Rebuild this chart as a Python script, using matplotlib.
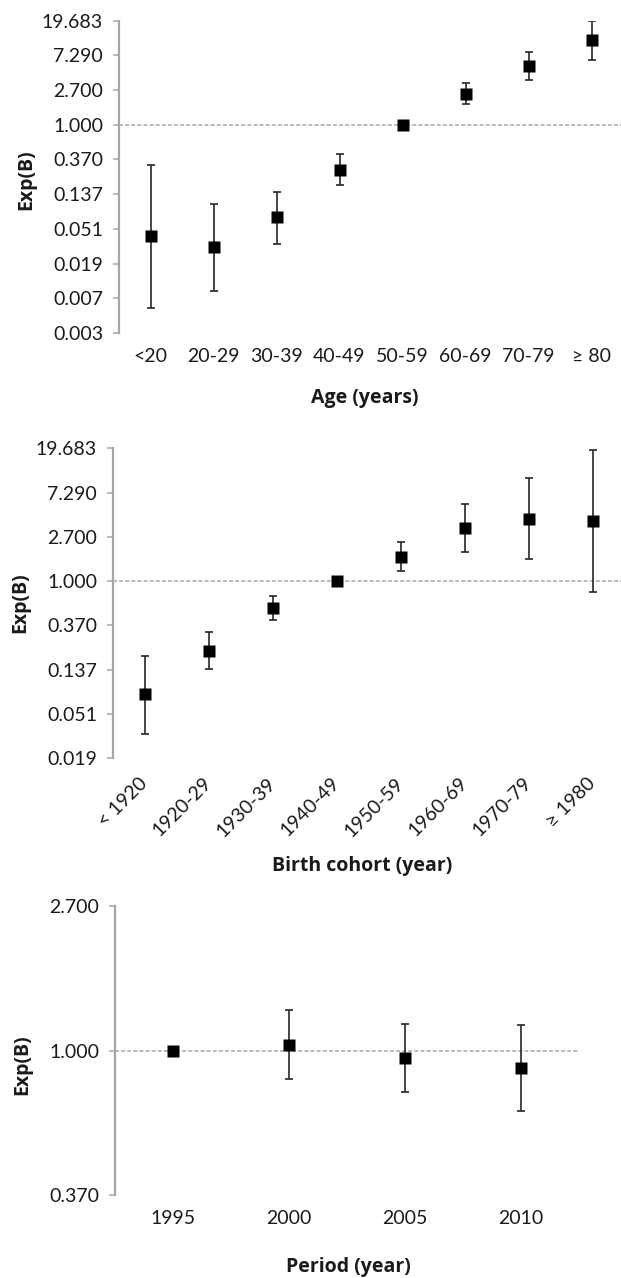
import numpy as np
import matplotlib
matplotlib.use("Agg")
import matplotlib.pyplot as plt
from matplotlib.ticker import FixedLocator, FixedFormatter

plt.rcParams["font.family"] = ["Lato", "DejaVu Sans"]

# ── data (Exp(B) with 95% CI; reference category has no interval) ──
age_labels = ["<20", "20-29", "30-39", "40-49", "50-59", "60-69", "70-79", "≥ 80"]
age_est = [0.041, 0.030, 0.071, 0.276, 1.0, 2.43, 5.45, 11.45]
age_lo = [0.0053, 0.0087, 0.033, 0.180, None, 1.79, 3.65, 6.47]
age_hi = [0.312, 0.105, 0.146, 0.437, None, 3.32, 7.99, 19.7]

cohort_labels = ["< 1920", "1920-29", "1930-39", "1940-49", "1950-59", "1960-69", "1970-79", "≥ 1980"]
cohort_est = [0.079, 0.210, 0.546, 1.0, 1.73, 3.31, 4.01, 3.87]
cohort_lo = [0.0324, 0.140, 0.417, None, 1.25, 1.93, 1.63, 0.781]
cohort_hi = [0.186, 0.319, 0.714, None, 2.40, 5.70, 10.0, 19.1]

period_labels = ["1995", "2000", "2005", "2010"]
period_est = [1.0, 1.042, 0.951, 0.888]
period_lo = [None, 0.821, 0.751, 0.659]
period_hi = [None, 1.32, 1.20, 1.19]

BASE = 2.7
W, H = 621, 1278
GRAY = "#a6a6a6"
TXT = "#1a1a1a"
TICK_FS = 14


def rect(left, top, right, bottom):
    return [left / W, 1 - bottom / H, (right - left) / W, (bottom - top) / H]


def panel(fig, box, labels, est, lo, hi, kmin, kmax, rotate=False):
    ax = fig.add_axes(box)
    x = np.arange(len(labels))
    ax.set_yscale("log", base=BASE)
    ax.set_ylim(BASE ** kmin, BASE ** kmax)
    ax.set_xlim(-0.5, len(labels) - 0.5)

    ax.axhline(1.0, color=GRAY, lw=1.1, ls=(0, (2.6, 1.4)), zorder=1)

    idx = [i for i in range(len(labels)) if lo[i] is not None]
    e = np.array([est[i] for i in idx])
    l = np.array([lo[i] for i in idx])
    h = np.array([hi[i] for i in idx])
    ax.errorbar(x[idx], e, yerr=[e - l, h - e], fmt="none", ecolor="#262626",
                elinewidth=1.2, capsize=3, capthick=1.2, zorder=2)
    ax.plot(x, est, "s", color="black", markersize=8.6, mec="none", zorder=3)

    ticks = [BASE ** k for k in range(kmin, kmax + 1)]
    ax.yaxis.set_major_locator(FixedLocator(ticks))
    ax.yaxis.set_major_formatter(FixedFormatter([f"{t:.3f}" for t in ticks]))
    ax.yaxis.set_minor_locator(FixedLocator([]))
    ax.tick_params(axis="y", direction="out", length=4.5, width=1.1, color=GRAY,
                   labelsize=TICK_FS, labelcolor=TXT, pad=7)

    ax.set_xticks(x)
    if rotate:
        ax.set_xticklabels(labels, rotation=45, ha="right", va="center",
                           rotation_mode="anchor")
        ax.tick_params(axis="x", length=0, labelsize=TICK_FS, labelcolor=TXT, pad=16)
    else:
        ax.set_xticklabels(labels)
        ax.tick_params(axis="x", length=0, labelsize=TICK_FS, labelcolor=TXT, pad=11)

    for s in ("top", "right", "bottom"):
        ax.spines[s].set_visible(False)
    ax.spines["left"].set_color(GRAY)
    ax.spines["left"].set_linewidth(1.6)
    ax.patch.set_alpha(0)
    return ax


fig = plt.figure(figsize=(W / 100, H / 100), dpi=100)

panel(fig, rect(119, 20.7, 623, 333), age_labels, age_est, age_lo, age_hi, -6, 3)
panel(fig, rect(113, 448.3, 625, 758.3), cohort_labels, cohort_est, cohort_lo, cohort_hi,
      -4, 3, rotate=True)
panel(fig, rect(115, 906, 579, 1195), period_labels, period_est, period_lo, period_hi, -1, 1)


def ftext(x, y, s, **kw):
    fig.text(x / W, 1 - y / H, s, ha="center", va="center", fontweight="bold",
             fontsize=14, color=TXT, family=["Open Sans", "DejaVu Sans"], **kw)


ftext(26, 180, "Exp(B)", rotation=90)
ftext(20, 603, "Exp(B)", rotation=90)
ftext(22, 1065, "Exp(B)", rotation=90)
ftext(365, 398, "Age (years)")
ftext(362, 866, "Birth cohort (year)")
ftext(348, 1267, "Period (year)")

fig.savefig("out.png", dpi=100)
